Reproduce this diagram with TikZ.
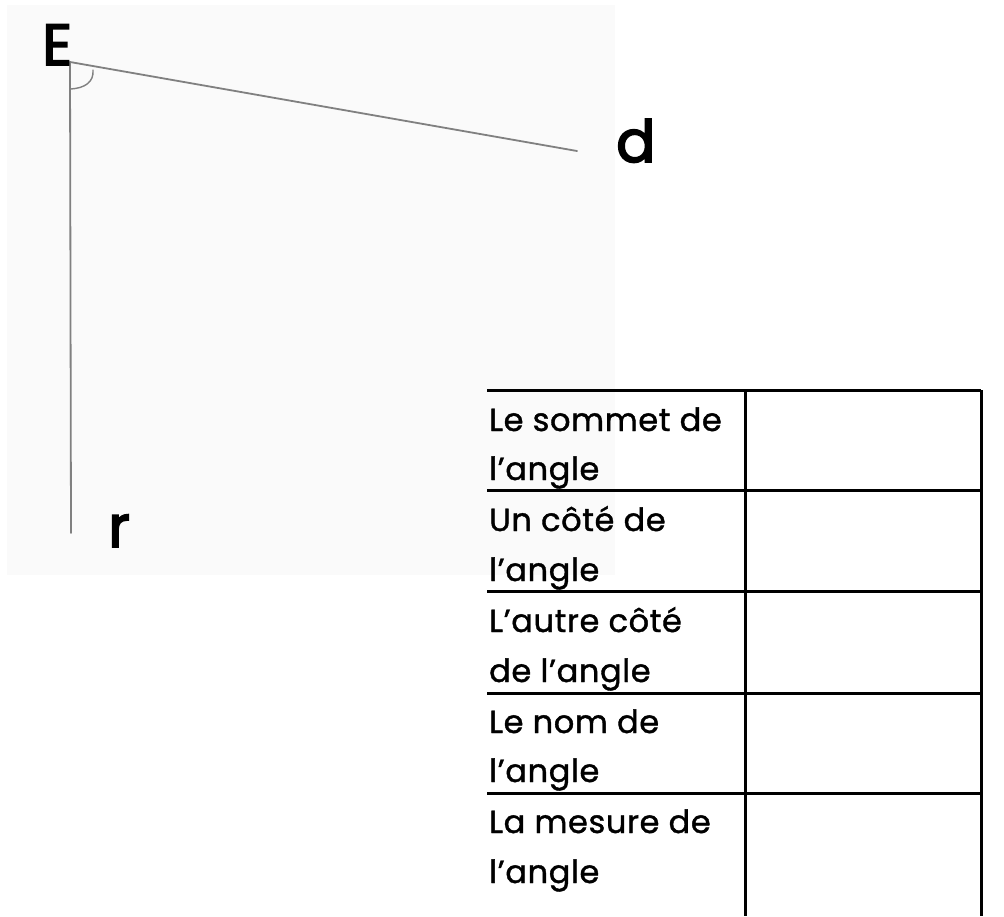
\documentclass[tikz,border=0pt]{standalone}
\usepackage{fontspec}
\setmainfont{Poppins}[FakeBold=1.2,LetterSpace=2]
\newfontfamily\lblfont{Poppins}[FakeBold=3]
\begin{document}
\begin{tikzpicture}[x=1pt,y=-1pt,
  pencil/.style={draw=black!50,line width=1.8pt,line cap=round},
  grid/.style={draw=black,line width=3pt},
  lbl/.style={anchor=base west,inner sep=0,font=\lblfont\fontsize{58}{60}\selectfont},
  cell/.style={anchor=base west,inner sep=0,font=\fontsize{32}{36}\selectfont}]
\useasboundingbox (0,0) rectangle (1004,916);
\fill[black!2] (7,5) rectangle (615,575);
% geometry
\coordinate (V) at (70,62);
\coordinate (D) at (577,151);
\coordinate (R) at (71,533);
\draw[pencil] (V) -- (D);
\draw[pencil] (V) -- (R);
\draw[pencil,line width=1.4pt] (93,70) .. controls (94,82) and (85,88) .. (71,89);
\node[lbl] (E) at (42,65) {E};
\node[lbl] (d) at (616,162) {d};
\node[lbl] (r) at (108,547) {r};
% table
\draw[grid] (487,390) -- (981,390);
\foreach \y in {490,591,693,793} \draw[grid] (487,\y) -- (981,\y);
\draw[grid] (745,390) -- (745,916);
\draw[grid] (981,390) -- (981,916);
\node[cell] (t1a) at (489,431) {Le sommet de};
\node[cell] (t1b) at (489,480) {l’angle};
\node[cell] (t2a) at (489,531) {Un côté de};
\node[cell] (t2b) at (489,581) {l’angle};
\node[cell] (t3a) at (489,632) {L’autre côté};
\node[cell] (t3b) at (489,682) {de l’angle};
\node[cell] (t4a) at (489,733) {Le nom de};
\node[cell] (t4b) at (489,782) {l’angle};
\node[cell] (t5a) at (489,833) {La mesure de};
\node[cell] (t5b) at (489,883) {l’angle};
\end{tikzpicture}
\end{document}
